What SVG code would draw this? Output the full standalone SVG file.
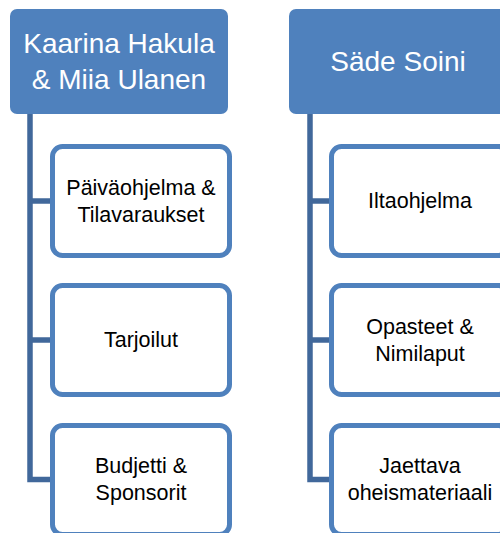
<svg xmlns="http://www.w3.org/2000/svg" width="500" height="533" viewBox="0 0 500 533">
<style>
.head{fill:#4F81BD}
.ht{fill:#fff;font-family:"Liberation Sans",Arial,sans-serif;font-size:28px;text-anchor:middle}
.box{fill:#fff;stroke:#4F81BD;stroke-width:5}
.bt{fill:#000;font-family:"Liberation Sans",Arial,sans-serif;font-size:21.5px;text-anchor:middle}
.con{fill:none;stroke:#41689B;stroke-width:5.5}
</style>
<rect width="500" height="533" fill="#fff"/>
<g id="connectors">
<path class="con" d="M30 114 V479.5 H52 M30 201 H52 M30 340 H52"/>
<path class="con" d="M310 114 V479.5 H331 M310 201 H331 M310 340 H331"/>
</g>
<g id="h1"><rect class="head" x="10" y="9" width="218" height="105" rx="7"/>
<text class="ht" x="119" y="53">Kaarina Hakula</text><text class="ht" x="119" y="89">&amp; Miia Ulanen</text></g>
<g id="h2"><rect class="head" x="289" y="9" width="218" height="105" rx="7"/>
<text class="ht" x="398" y="71">Säde Soini</text></g>
<g id="b1"><rect class="box" x="52.5" y="146.5" width="177" height="109" rx="10"/>
<text class="bt" x="141" y="194.5">Päiväohjelma &amp;</text><text class="bt" x="141" y="221.5">Tilavaraukset</text></g>
<g id="b2"><rect class="box" x="52.5" y="285.5" width="177" height="109" rx="10"/>
<text class="bt" x="141" y="347">Tarjoilut</text></g>
<g id="b3"><rect class="box" x="52.5" y="425.5" width="177" height="109" rx="10"/>
<text class="bt" x="141" y="473">Budjetti &amp;</text><text class="bt" x="141" y="500">Sponsorit</text></g>
<g id="b4"><rect class="box" x="331.5" y="146.5" width="177" height="109" rx="10"/>
<text class="bt" x="420" y="208">Iltaohjelma</text></g>
<g id="b5"><rect class="box" x="331.5" y="285.5" width="177" height="109" rx="10"/>
<text class="bt" x="420" y="333.5">Opasteet &amp;</text><text class="bt" x="420" y="360.5">Nimilaput</text></g>
<g id="b6"><rect class="box" x="331.5" y="425.5" width="177" height="109" rx="10"/>
<text class="bt" x="420" y="473">Jaettava</text><text class="bt" x="420" y="500">oheismateriaali</text></g>
</svg>
